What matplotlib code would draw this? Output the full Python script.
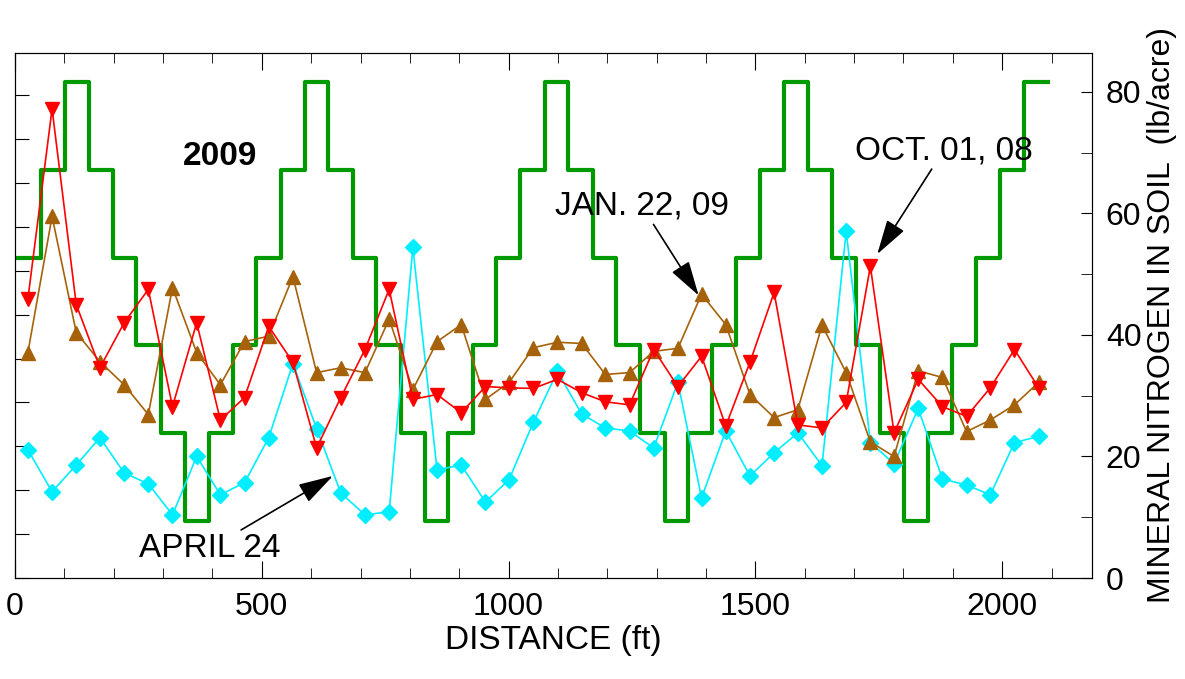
import matplotlib

matplotlib.use("Agg")
import matplotlib.pyplot as plt
from matplotlib.ticker import MultipleLocator

plt.rcParams["font.family"] = ["Liberation Sans", "DejaVu Sans"]

distance = [26, 75, 124, 172, 221, 270, 319, 368, 416, 465, 514, 563, 611, 660,
            709, 758, 806, 855, 904, 953, 1001, 1050, 1099, 1148, 1196, 1245,
            1294, 1343, 1391, 1440, 1489, 1538, 1586, 1635, 1684, 1733, 1781,
            1830, 1879, 1928, 1976, 2025, 2074]

oct_01_08 = [45.9, 77.2, 45.0, 34.6, 42.0, 47.5, 28.2, 42.0, 26.0, 29.7, 41.4,
             35.5, 21.4, 29.7, 37.6, 47.5, 29.4, 30.2, 27.2, 31.5, 31.3, 31.2,
             32.7, 30.5, 29.0, 28.5, 37.6, 31.5, 36.5, 25.0, 35.5, 47.0, 25.2,
             24.7, 28.9, 51.3, 23.9, 32.7, 28.2, 26.6, 31.3, 37.6, 31.3]

jan_22_09 = [37.1, 59.5, 40.4, 35.6, 31.8, 26.9, 47.8, 37.1, 31.8, 38.9, 39.8,
             49.6, 33.8, 34.6, 33.8, 42.6, 31.0, 38.9, 41.7, 29.4, 32.2, 37.9,
             38.8, 38.6, 33.5, 33.8, 37.3, 37.8, 46.7, 41.7, 30.2, 26.4, 27.7,
             41.6, 33.8, 22.4, 20.0, 34.1, 33.0, 24.1, 26.0, 28.5, 32.2]

april_24 = [21.1, 14.2, 18.6, 23.1, 17.3, 15.5, 10.4, 20.0, 13.7, 15.7, 23.1,
            35.3, 24.6, 14.0, 10.4, 10.9, 54.4, 17.8, 18.6, 12.5, 16.2, 25.6,
            34.0, 27.0, 24.7, 24.2, 21.4, 32.2, 13.2, 24.2, 16.8, 20.6, 23.9,
            18.5, 57.1, 22.3, 18.8, 27.9, 16.3, 15.3, 13.7, 22.3, 23.3]

# green step profile (left, unlabeled axis)
step_edges = [0, 52, 101, 149, 198, 246, 295, 344, 392, 441, 489, 538, 587, 635,
              684, 732, 781, 830, 878, 927, 975, 1024, 1073, 1121, 1170, 1218,
              1267, 1316, 1364, 1413, 1461, 1510, 1559, 1607, 1656, 1704, 1753,
              1802, 1850, 1899, 1947, 1996, 2045, 2093]
step_cycle = [9.3, 11.3, 9.3, 7.3, 5.3, 3.3, 1.3, 3.3, 5.3, 7.3]
step_levels = [7.3] + [step_cycle[k % 10] for k in range(42)]

fig = plt.figure(figsize=(11.85, 6.79), dpi=100)
ax = fig.add_axes([0.0127, 0.1487, 0.9088, 0.7733])
ax2 = ax.twinx()

ax.step(step_edges, step_levels + [step_levels[-1]], where="post",
        color="#009900", lw=3)
ax.set_ylim(0, 11.96)
ax.yaxis.set_major_locator(MultipleLocator(1))
ax.set_yticklabels([])
ax.set_xlim(0, 2182)
ax.xaxis.set_major_locator(MultipleLocator(500))
ax.xaxis.set_minor_locator(MultipleLocator(100))
ax.tick_params(axis="x", which="major", direction="in", top=True, labelsize=23,
               length=12, pad=10)
ax.tick_params(axis="x", which="minor", direction="in", top=True, length=7)
ax.tick_params(axis="y", direction="in", length=10)
ax.set_xlabel("DISTANCE (ft)", fontsize=24, labelpad=2)

ax2.plot(distance, april_24, color="#00eeff", marker="D", ms=8, lw=1.2)
ax2.plot(distance, jan_22_09, color="#a5620a", marker="^", ms=10, lw=1.2)
ax2.plot(distance, oct_01_08, color="#ff0000", marker="v", ms=10, lw=1.2)
ax2.set_ylim(0, 86.4)
ax2.yaxis.set_major_locator(MultipleLocator(20))
ax2.yaxis.set_minor_locator(MultipleLocator(10))
ax2.tick_params(axis="y", which="both", direction="in", length=8, labelsize=23,
                pad=10)
ax2.set_ylabel("MINERAL NITROGEN IN SOIL  (lb/acre)", fontsize=23, labelpad=4)

ax2.text(340, 69.3, "2009", fontsize=24, fontweight="bold", va="center")
arrow = dict(arrowstyle="-|>,head_length=1.2,head_width=0.35", color="black",
             lw=1.2, shrinkA=0, shrinkB=0, mutation_scale=18)
ax2.annotate("JAN. 22, 09", xy=(1385, 46.5), xytext=(1270, 61.2), fontsize=24,
             ha="center", va="center", arrowprops=arrow)
ax2.annotate("OCT. 01, 08", xy=(1747, 53.3), xytext=(1881, 70.3), fontsize=24,
             ha="center", va="center", arrowprops=arrow)
ax2.annotate("APRIL 24", xy=(644, 16.8), xytext=(395, 4.9), fontsize=24,
             ha="center", va="center", arrowprops=arrow)

fig.savefig("out.png", dpi=100)
plt.close(fig)
